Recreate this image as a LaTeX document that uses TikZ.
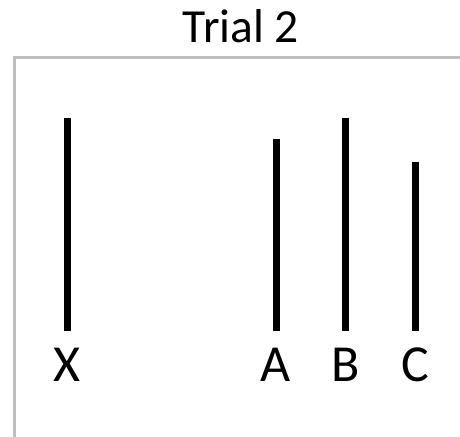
\documentclass[tikz,border=0pt]{standalone}
\usepackage{fontspec}
\setmainfont{Carlito}
\begin{document}
\begin{tikzpicture}[x=1pt,y=-1pt,
  frame/.style={draw=black!25,line width=3pt},
  stick/.style={draw=black,line width=7pt,line cap=butt},
  lbl/.style={font=\fontsize{52}{52}\selectfont,anchor=base,inner sep=0pt}]
  \useasboundingbox (0,0) rectangle (460,436);
  \begin{scope}
    \clip (0,0) rectangle (460,436);
    \draw[frame] (14.5,58) rectangle (480,460);
  \end{scope}
  \node[font=\fontsize{47.5}{47.5}\selectfont,anchor=base,inner sep=0pt] (title) at (241,42.7) {Trial 2};
  % reference stick and the three comparison sticks
  \node[lbl] (X) at (67,381.5) {X};
  \node[lbl] (A) at (276,381.5) {A};
  \node[lbl] (B) at (345.5,381.5) {B};
  \node[lbl] (C) at (415.5,381.5) {C};
  \coordinate (xt) at (67,118);
  \coordinate (at) at (276,139);
  \coordinate (bt) at (345.5,117.7);
  \coordinate (ct) at (415.5,161.7);
  \draw[stick] (xt) -- (67,331);
  \draw[stick] (at) -- (276,331);
  \draw[stick] (bt) -- (345.5,331);
  \draw[stick] (ct) -- (415.5,331);
\end{tikzpicture}
\end{document}
